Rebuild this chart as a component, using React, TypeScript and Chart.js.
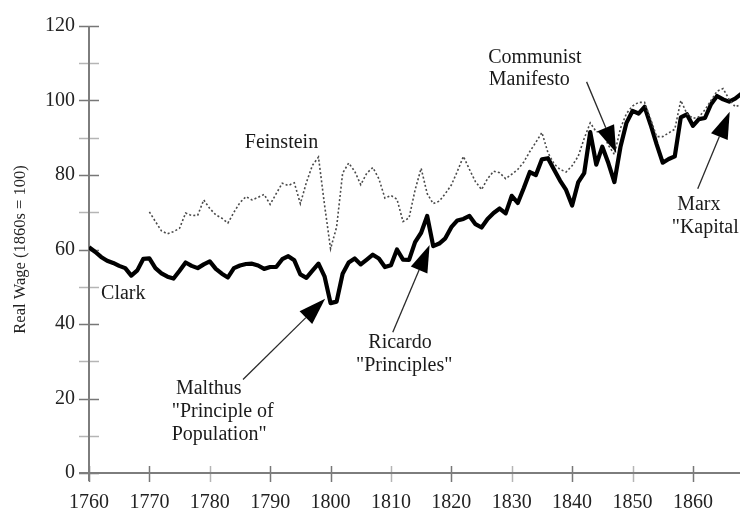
import { useEffect, useRef } from 'react';
import { Chart, registerables } from 'chart.js';

Chart.register(...registerables);

// ---- Data ----
const clarkStartYear = 1760;
const clarkValues = [
  60.6, 59.4, 58.0, 57.0, 56.4, 55.6, 55.0, 53.0, 54.4, 57.5, // 1760-1769
  57.6, 55.0, 53.6, 52.7, 52.2, 54.3, 56.5, 55.6, 55.0, 56.0, // 1770-1779
  56.8, 54.8, 53.5, 52.5, 55.0, 55.7, 56.1, 56.2, 55.7, 54.8, // 1780-1789
  55.3, 55.3, 57.4, 58.2, 57.1, 53.3, 52.4, 54.3, 56.2, 52.8, // 1790-1799
  45.6, 46.0, 53.5, 56.5, 57.6, 56.0, 57.3, 58.6, 57.6, 55.3, // 1800-1809
  55.8, 60.0, 57.3, 57.2, 62.0, 64.5, 69.0, 60.9, 61.6, 63.0, // 1810-1819
  66.0, 67.8, 68.2, 69.0, 66.8, 65.9, 68.2, 69.8, 71.0, 69.7, // 1820-1829
  74.4, 72.5, 76.5, 80.8, 80.0, 84.2, 84.5, 81.5, 78.5, 76.0, // 1830-1839
  71.8, 78.0, 80.5, 91.5, 82.8, 87.6, 83.2, 78.1, 87.5, 94.0, // 1840-1849
  97.2, 96.5, 98.3, 93.5, 88.2, 83.3, 84.3, 85.0, 95.5, 96.3, // 1850-1859
  93.2, 95.0, 95.3, 99.0, 101.2, 100.3, 99.7, 100.5, 101.8,   // 1860-1868
];

const feinsteinStartYear = 1770;
const feinsteinValues = [
  70.1, 67.5, 65.0, 64.2, 64.8, 65.7, 69.8, 69.1, 69.2, 73.3, // 1770-1779
  71.0, 69.3, 68.4, 67.1, 70.0, 72.6, 74.2, 73.3, 74.0, 74.8, // 1780-1789
  72.1, 75.0, 77.8, 77.2, 77.9, 72.3, 78.0, 82.6, 84.8, 72.0, // 1790-1799
  60.2, 66.0, 80.5, 83.2, 81.0, 77.4, 80.5, 82.0, 79.0, 73.8, // 1800-1809
  74.5, 73.5, 67.5, 68.5, 76.0, 81.8, 75.0, 72.3, 73.0, 75.0, // 1810-1819
  77.3, 81.0, 85.0, 81.5, 78.2, 76.1, 79.0, 81.0, 80.6, 79.0, // 1820-1829
  80.2, 81.5, 83.5, 86.3, 88.8, 91.4, 86.0, 83.0, 81.5, 80.8, // 1830-1839
  82.5, 85.0, 89.8, 94.0, 91.6, 91.6, 88.0, 85.5, 92.5, 96.5, // 1840-1849
  98.5, 99.5, 99.5, 95.0, 90.3, 90.3, 91.3, 92.3, 100.0, 96.5, // 1850-1859
  95.2, 95.6, 97.5, 100.0, 102.5, 103.2, 100.3, 98.3, 99.0,   // 1860-1868
];

const xTickYears = [1760, 1770, 1780, 1790, 1800, 1810, 1820, 1830, 1840, 1850, 1860];
const xLightTickYears = [1780, 1810, 1830, 1850];
const yTickValues = [0, 10, 20, 30, 40, 50, 60, 70, 80, 90, 100, 110, 120];
const yLabelValues = [0, 20, 40, 60, 80, 100, 120];

const yAxisTitle = 'Real Wage (1860s = 100)';

// Annotation texts (anchor in data coordinates: year, value)
const labelTexts = [
  { text: 'Clark', year: 1762.0, value: 46.6, align: 'left' },
  { text: 'Feinstein', year: 1785.8, value: 87.2, align: 'left' },
  { text: 'Communist', year: 1826.1, value: 110.2, align: 'left' },
  { text: 'Manifesto', year: 1826.2, value: 104.1, align: 'left' },
  { text: 'Marx', year: 1857.4, value: 70.5, align: 'left' },
  { text: '"Kapital"', year: 1856.5, value: 64.4, align: 'left' },
  { text: 'Malthus', year: 1774.4, value: 21.1, align: 'left' },
  { text: '"Principle of', year: 1773.7, value: 15.0, align: 'left' },
  { text: 'Population"', year: 1773.7, value: 8.9, align: 'left' },
  { text: 'Ricardo', year: 1811.5, value: 33.6, align: 'center' },
  { text: '"Principles"', year: 1812.2, value: 27.4, align: 'center' },
];

// Arrows: tail -> tip, in data coordinates
const arrowFromYears = [1785.5, 1810.3, 1842.4, 1860.8];
const arrowFromValues = [25.1, 37.8, 105.0, 76.3];
const arrowToYears = [1799.1, 1816.4, 1847.3, 1866.1];
const arrowToValues = [46.8, 61.2, 86.0, 97.0];

const SERIF = '"Liberation Serif", "Times New Roman", serif';

const axesPlugin = {
  id: 'customAxes',
  beforeDatasetsDraw(chart: any) {
    const { ctx } = chart;
    const xs = chart.scales.x;
    const ys = chart.scales.y;
    const x0 = xs.getPixelForValue(1760);
    const y0 = ys.getPixelForValue(0);
    const yTop = ys.getPixelForValue(120);
    ctx.save();
    ctx.lineCap = 'butt';
    yTickValues.forEach((v) => {
      const py = Math.round(ys.getPixelForValue(v)) + 0.5;
      ctx.strokeStyle = v % 20 === 0 ? '#777' : '#b5b5b5';
      ctx.lineWidth = 1.5;
      ctx.beginPath();
      ctx.moveTo(x0 - 10, py);
      ctx.lineTo(x0 + 10, py);
      ctx.stroke();
    });
    xTickYears.forEach((yr) => {
      const px = Math.round(xs.getPixelForValue(yr)) + 0.5;
      ctx.strokeStyle = xLightTickYears.includes(yr) ? '#b5b5b5' : '#777';
      ctx.lineWidth = 1.5;
      ctx.beginPath();
      ctx.moveTo(px, y0 - 7);
      ctx.lineTo(px, y0 + 9);
      ctx.stroke();
    });
    ctx.strokeStyle = '#7d7d7d';
    ctx.lineWidth = 2;
    ctx.beginPath();
    ctx.moveTo(x0, yTop);
    ctx.lineTo(x0, y0 + 8);
    ctx.stroke();
    ctx.beginPath();
    ctx.moveTo(x0 - 10, y0);
    ctx.lineTo(chart.width, y0);
    ctx.stroke();
    ctx.restore();
  },
};

const annotationPlugin = {
  id: 'annotations',
  afterDatasetsDraw(chart: any) {
    const { ctx } = chart;
    const xs = chart.scales.x;
    const ys = chart.scales.y;
    ctx.save();
    ctx.fillStyle = '#1a1a1a';
    ctx.font = `20px ${SERIF}`;
    ctx.textBaseline = 'alphabetic';
    labelTexts.forEach((l) => {
      ctx.textAlign = l.align as CanvasTextAlign;
      ctx.fillText(l.text, xs.getPixelForValue(l.year), ys.getPixelForValue(l.value));
    });
    arrowFromYears.forEach((_, i) => {
      const x1 = xs.getPixelForValue(arrowFromYears[i]);
      const y1 = ys.getPixelForValue(arrowFromValues[i]);
      const x2 = xs.getPixelForValue(arrowToYears[i]);
      const y2 = ys.getPixelForValue(arrowToValues[i]);
      const ang = Math.atan2(y2 - y1, x2 - x1);
      const headLen = 27;
      const headHalf = 9;
      const bx = x2 - headLen * Math.cos(ang);
      const by = y2 - headLen * Math.sin(ang);
      ctx.strokeStyle = '#2a2a2a';
      ctx.lineWidth = 1.3;
      ctx.beginPath();
      ctx.moveTo(x1, y1);
      ctx.lineTo(bx, by);
      ctx.stroke();
      ctx.fillStyle = '#000';
      ctx.beginPath();
      ctx.moveTo(x2, y2);
      ctx.lineTo(bx + headHalf * Math.sin(ang), by - headHalf * Math.cos(ang));
      ctx.lineTo(bx - headHalf * Math.sin(ang), by + headHalf * Math.cos(ang));
      ctx.closePath();
      ctx.fill();
    });
    ctx.restore();
  },
};

export default function App() {
  const canvasRef = useRef<HTMLCanvasElement | null>(null);

  useEffect(() => {
    const canvas = canvasRef.current;
    if (!canvas) return;
    const clarkData = clarkValues.map((v, i) => ({ x: clarkStartYear + i, y: v }));
    const feinsteinData = feinsteinValues.map((v, i) => ({ x: feinsteinStartYear + i, y: v }));

    const chart = new Chart(canvas, {
      type: 'line',
      data: {
        datasets: [
          {
            label: 'Feinstein',
            data: feinsteinData,
            borderColor: '#4a4a4a',
            borderWidth: 1.6,
            borderDash: [2, 2.2],
            pointRadius: 0,
            tension: 0,
            fill: false,
          },
          {
            label: 'Clark',
            data: clarkData,
            borderColor: '#000',
            borderWidth: 4.2,
            borderJoinStyle: 'round',
            pointRadius: 0,
            tension: 0,
            fill: false,
          },
        ],
      },
      options: {
        responsive: false,
        animation: false,
        devicePixelRatio: 1,
        layout: { padding: { top: 21.5, right: 0, bottom: 0, left: 0 } },
        plugins: {
          legend: { display: false },
          tooltip: { enabled: false },
        },
        scales: {
          x: {
            type: 'linear',
            min: 1760,
            max: 1867.8,
            afterFit: (s: any) => {
              s.height = 40;
            },
            grid: { display: false, drawTicks: false },
            border: { display: false },
            afterBuildTicks: (s: any) => {
              s.ticks = xTickYears.map((v) => ({ value: v }));
            },
            ticks: {
              autoSkip: false,
              maxRotation: 0,
              padding: 17.5,
              color: '#222',
              font: { family: SERIF, size: 20 },
              callback: (v: any) => String(v),
            },
          },
          y: {
            min: 0,
            max: 120,
            afterFit: (s: any) => {
              s.width = 89;
            },
            grid: { display: false, drawTicks: false },
            border: { display: false },
            afterBuildTicks: (s: any) => {
              s.ticks = yLabelValues.map((v) => ({ value: v }));
            },
            ticks: {
              padding: 14,
              color: '#222',
              font: { family: SERIF, size: 20 },
              callback: (v: any) => String(v),
            },
            title: {
              display: true,
              text: yAxisTitle,
              color: '#222',
              font: { family: SERIF, size: 16.5 },
              padding: { top: 11, bottom: 0 },
            },
          },
        },
      },
      plugins: [axesPlugin, annotationPlugin],
    });
    return () => chart.destroy();
  }, []);

  return (
    <div style={{ position: 'fixed', left: 0, top: 0, width: 740, height: 513, background: '#fff' }}>
      <canvas ref={canvasRef} width={740} height={513} style={{ width: 740, height: 513 }} />
    </div>
  );
}
